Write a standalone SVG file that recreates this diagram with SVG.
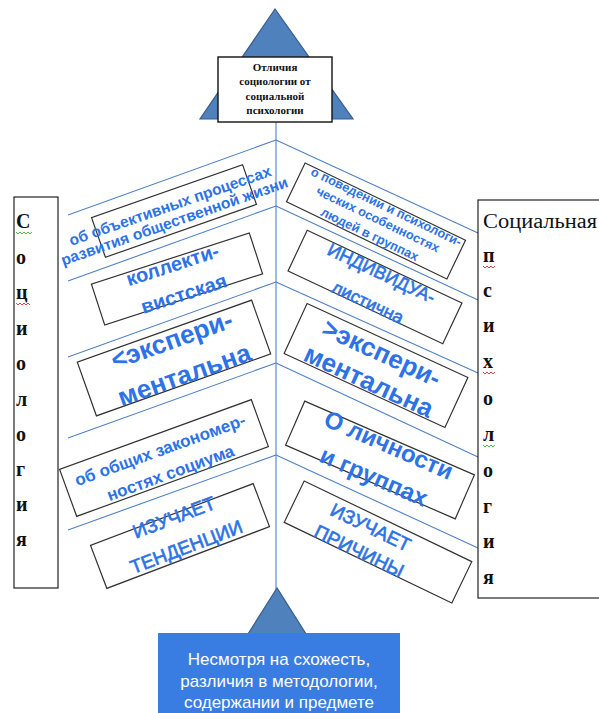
<svg xmlns="http://www.w3.org/2000/svg" width="599" height="713" viewBox="0 0 599 713">
<style>
.rib{stroke:#4f81c4;stroke-width:1.1;fill:none}
.bx{fill:none;stroke:#333;stroke-width:1.2}
.bt{fill:#2d72e6;font-family:"Liberation Sans",Arial,sans-serif;text-anchor:middle}
.b{font-weight:bold}
.m{stroke:#2d72e6;stroke-width:0.6}
.ser{font-family:"Liberation Serif","Times New Roman",serif;fill:#111}
.sq{fill:none;stroke-width:0.9}
</style>
<rect width="599" height="713" fill="#fff"/>
<g id="connectors">
<line class="rib" x1="276" y1="122" x2="276" y2="590"/>
<line class="rib" x1="276" y1="140" x2="68" y2="215"/>
<line class="rib" x1="276" y1="206" x2="68" y2="281"/>
<line class="rib" x1="276" y1="282" x2="68" y2="357"/>
<line class="rib" x1="276" y1="363" x2="68" y2="438"/>
<line class="rib" x1="276" y1="455" x2="68" y2="530"/>
<line class="rib" x1="276" y1="140" x2="478" y2="233"/>
<line class="rib" x1="276" y1="206" x2="478" y2="300"/>
<line class="rib" x1="276" y1="282" x2="478" y2="373"/>
<line class="rib" x1="276" y1="363" x2="478" y2="457"/>
<line class="rib" x1="276" y1="455" x2="478" y2="548"/>
</g>
<g id="top">
<polygon points="275,9 200,119 353,119" fill="#4f81bd" stroke="#385d8a" stroke-width="1.2"/>
<rect x="218" y="57" width="114" height="65" fill="#fff" stroke="#111" stroke-width="1.4"/>
<text class="ser" font-size="11" font-weight="bold" text-anchor="middle"><tspan x="275" y="71">Отличия</tspan><tspan x="275" y="85">социологии от</tspan><tspan x="275" y="100">социальной</tspan><tspan x="275" y="114">психологии</tspan></text>
</g>
<g id="bottom">
<polygon points="277,588 248,634 306,634" fill="#4f81bd" stroke="#385d8a" stroke-width="1.2"/>
<rect x="158" y="633" width="242" height="80" fill="#3a7de2"/>
<text font-family="Liberation Sans,Arial,sans-serif" font-size="17" fill="#fff" text-anchor="middle"><tspan x="279" y="665">Несмотря на схожесть,</tspan><tspan x="279" y="687">различия в методологии,</tspan><tspan x="279" y="708">содержании и предмете</tspan></text>
</g>
<g id="sociology">
<rect x="14" y="197" width="44" height="391" fill="none" stroke="#222" stroke-width="1.2"/>
<g class="ser" font-size="20" font-weight="bold">
<text x="16" y="228">С</text><text x="16" y="264">о</text><text x="16" y="299">ц</text><text x="16" y="335">и</text><text x="16" y="370">о</text><text x="16" y="406">л</text><text x="16" y="441">о</text><text x="16" y="476">г</text><text x="16" y="511">и</text><text x="16" y="546">я</text>
</g>
<polyline class="sq" stroke="#3cae3c" points="16,232 18,234 20,232 22,234 24,232 26,234 28,232 30,234 32,232"/>
<polyline class="sq" stroke="#e03030" points="16,303 18,305 20,303 22,305 24,303 26,305 28,303 30,305"/>
</g>
<g id="psychology">
<rect x="478" y="200" width="125" height="398" fill="none" stroke="#222" stroke-width="1.2"/>
<text class="ser" x="483" y="228" font-size="20" textLength="114" lengthAdjust="spacingAndGlyphs">Социальная</text>
<g class="ser" font-size="20" font-weight="bold">
<text x="483" y="262">п</text><text x="483" y="297">с</text><text x="483" y="332">и</text><text x="483" y="368">х</text><text x="483" y="405">о</text><text x="483" y="441">л</text><text x="483" y="477">о</text><text x="483" y="513">г</text><text x="483" y="548">и</text><text x="483" y="584">я</text>
</g>
<polyline class="sq" stroke="#e03030" points="483,266 485,268 487,266 489,268 491,266 493,268 495,266"/>
<polyline class="sq" stroke="#e03030" points="483,372 485,374 487,372 489,374 491,372 493,374 495,372"/>
<polyline class="sq" stroke="#3cae3c" points="483,445 485,447 487,445 489,447 491,445 493,447 495,445"/>
</g>
<g id="box-L1" transform="translate(174,211) rotate(-19.3)">
<rect class="bx" x="-80" y="-21" width="160" height="42"/>
<text class="bt b" font-size="15.5"><tspan x="-2" y="-1">об объективных процессах</tspan><tspan x="-3" y="15">развития общественной жизни</tspan></text>
</g>
<g id="box-L2" transform="translate(177,279) rotate(-18)">
<rect class="bx" x="-83" y="-21.5" width="166" height="43"/>
<text class="bt b" font-size="20"><tspan x="0" y="-8">коллекти-</tspan><tspan x="2" y="23">вистская</tspan></text>
</g>
<g id="box-L3" transform="translate(174,358) rotate(-19.6)">
<rect class="bx" x="-92.5" y="-28.5" width="185" height="57"/>
<text class="bt b" font-size="26"><tspan x="4" y="-9">&lt;экспери-</tspan><tspan x="4" y="28">ментальна</tspan></text>
</g>
<g id="box-L4" transform="translate(164,458) rotate(-20)">
<rect class="bx" x="-102" y="-25" width="204" height="50"/>
<text class="bt b" font-size="17"><tspan x="-1" y="-3">об общих закономер-</tspan><tspan x="1" y="22">ностях социума</tspan></text>
</g>
<g id="box-L5" transform="translate(180,536) rotate(-20.8)">
<rect class="bx" x="-87" y="-23" width="174" height="46"/>
<text class="bt m" font-size="19"><tspan x="1" y="-13">ИЗУЧАЕТ</tspan><tspan x="2" y="19">ТЕНДЕНЦИИ</tspan></text>
</g>
<g id="box-R1" transform="translate(376,221) rotate(25.7)">
<rect class="bx" x="-89" y="-21.5" width="178" height="43"/>
<text class="bt b" font-size="12.8"><tspan x="3" y="-13">о поведении и психологи-</tspan><tspan x="1" y="2">ческих особенностях</tspan><tspan x="0" y="19">людей в группах</tspan></text>
</g>
<g id="box-R2" transform="translate(375,287) rotate(25.2)">
<rect class="bx" x="-85.5" y="-22.5" width="171" height="45"/>
<text class="bt m" font-size="18"><tspan x="0" y="-9">ИНДИВИДУА-</tspan><tspan x="0" y="23">листична</tspan></text>
</g>
<g id="box-R3" transform="translate(376,365.5) rotate(24.7)">
<rect class="bx" x="-88.5" y="-27.5" width="177" height="55"/>
<text class="bt b" font-size="26"><tspan x="0" y="-5">&gt;экспери-</tspan><tspan x="0" y="26">ментальна</tspan></text>
</g>
<g id="box-R4" transform="translate(380,460) rotate(23.5)">
<rect class="bx" x="-92.5" y="-24" width="185" height="48"/>
<text class="bt b" font-size="24"><tspan x="2" y="-9">О личности</tspan><tspan x="1" y="26">и группах</tspan></text>
</g>
<g id="box-R5" transform="translate(378,542) rotate(25.7)">
<rect class="bx" x="-93" y="-23" width="186" height="46"/>
<text class="bt m" font-size="19"><tspan x="-13" y="-3.5">ИЗУЧАЕТ</tspan><tspan x="-13" y="23">ПРИЧИНЫ</tspan></text>
</g>
</svg>
